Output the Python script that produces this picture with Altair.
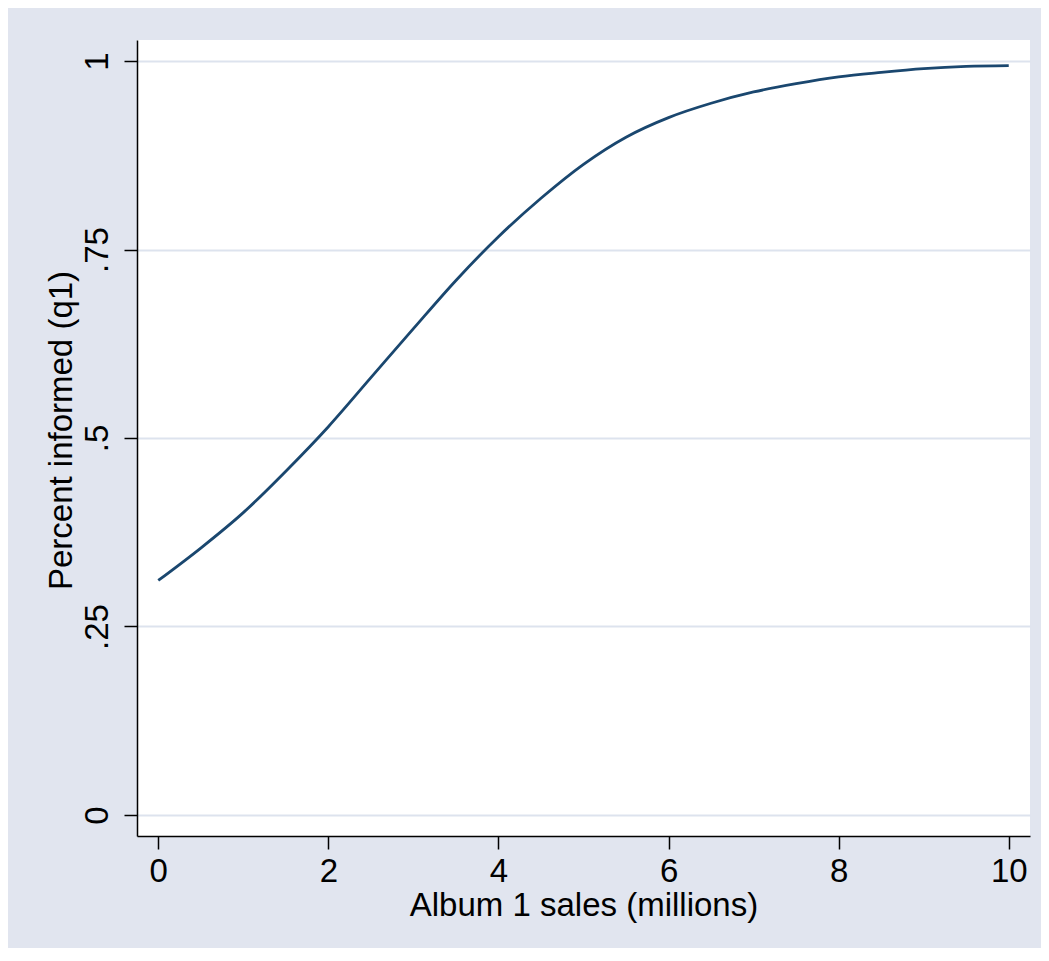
import altair as alt
import pandas as pd

# Curve
sales = [0.0, 0.5, 1.0, 1.5, 2.0, 2.5, 3.0, 3.5, 4.0, 4.5, 5.0,
         5.5, 6.0, 6.5, 7.0, 7.5, 8.0, 8.5, 9.0, 9.5, 10.0]
informed = [0.311, 0.354, 0.401, 0.456, 0.515, 0.580, 0.645, 0.709, 0.767, 0.818, 0.863,
            0.899, 0.925, 0.944, 0.959, 0.970, 0.979, 0.985, 0.990, 0.993, 0.994]

x_ticks = [0, 2, 4, 6, 8, 10]
y_ticks = [0, 0.25, 0.5, 0.75, 1]
y_tick_labels = ["0", ".25", ".5", ".75", "1"]

df = pd.DataFrame({"sales": sales, "informed": informed})

label_expr = "''"
for v, lab in zip(reversed(y_ticks), reversed(y_tick_labels)):
    label_expr = f"abs(datum.value - {v}) < 1e-9 ? '{lab}' : ({label_expr})"

FONT = "Liberation Sans"
BG = "#e1e5ef"
GRID = "#dde3ee"
LINE = "#1a476f"

W, H = 893, 796

chart = alt.Chart(df).mark_line(color=LINE, strokeWidth=2.8, interpolate="monotone").encode(
    x=alt.X("sales:Q",
            scale=alt.Scale(domain=[-0.25, 10.25], nice=False, zero=False),
            axis=alt.Axis(values=x_ticks, title="Album 1 sales (millions)",
                          grid=False, tickSize=13, labelPadding=6,
                          titleY=79, titleBaseline="alphabetic")),
    y=alt.Y("informed:Q",
            scale=alt.Scale(domain=[-0.0279, 1.0279], nice=False, zero=False),
            axis=alt.Axis(values=y_ticks, labelExpr=label_expr,
                          title="Percent informed (q1)",
                          grid=True, gridColor=GRID, gridWidth=2,
                          tickSize=13, labelPadding=17, labelAngle=-90,
                          labelAlign="center", labelBaseline="alphabetic",
                          titleAngle=-90, titleX=-66, titleY=390,
                          titleAlign="center", titleBaseline="alphabetic")),
).properties(
    width=W, height=H,
    background=BG,
    autosize=alt.AutoSizeParams(type="none"),
    padding={"left": 129, "top": 32, "right": 11, "bottom": 112},
).configure_view(
    fill="white", stroke=None
).configure_axis(
    labelFont=FONT, titleFont=FONT, labelFontSize=33, titleFontSize=33,
    labelColor="black", titleColor="black", labelFontWeight="normal",
    titleFontWeight="normal", domainColor="black", domainWidth=1.5,
    tickColor="black", tickWidth=1.5, labelOverlap=False, labelFlush=False
)

chart.save("out.html", embed_options={"renderer": "svg", "actions": False})
